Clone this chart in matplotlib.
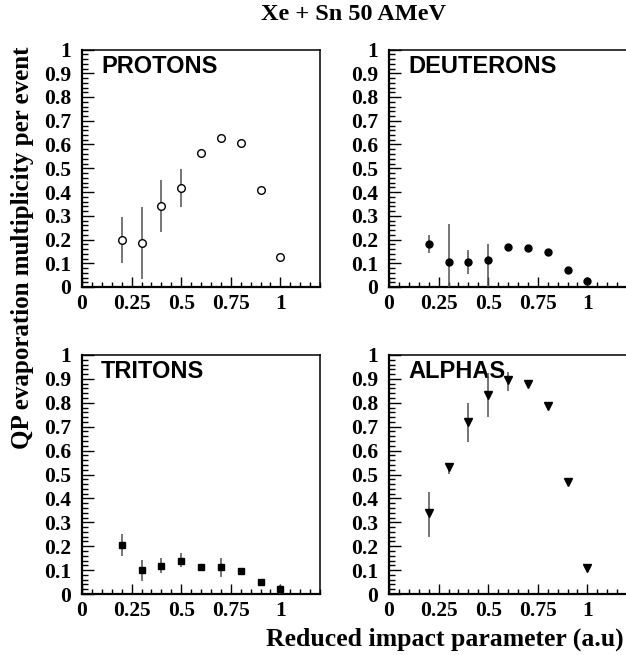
import matplotlib
matplotlib.use("Agg")
import matplotlib.pyplot as plt
import numpy as np
from matplotlib.ticker import MultipleLocator, FormatStrFormatter

plt.rcParams['font.family'] = 'Liberation Serif'
plt.rcParams['font.weight'] = 'bold'

# reduced impact parameter bins
b = [0.2, 0.3, 0.4, 0.5, 0.6, 0.7, 0.8, 0.9, 1.0]

# multiplicities and error bar ends (low, high)
prot = [0.197, 0.186, 0.341, 0.418, 0.565, 0.628, 0.607, 0.410, 0.125]
prot_lo = [0.099, 0.035, 0.232, 0.338, 0.555, 0.615, 0.600, 0.405, 0.120]
prot_hi = [0.296, 0.335, 0.451, 0.496, 0.575, 0.643, 0.615, 0.415, 0.130]

deut = [0.179, 0.106, 0.106, 0.114, 0.168, 0.163, 0.147, 0.070, 0.025]
deut_lo = [0.143, 0.000, 0.053, 0.000, 0.168, 0.163, 0.147, 0.070, 0.015]
deut_hi = [0.217, 0.267, 0.157, 0.183, 0.168, 0.163, 0.147, 0.070, 0.035]

trit = [0.206, 0.101, 0.119, 0.140, 0.115, 0.112, 0.096, 0.052, 0.020]
trit_lo = [0.157, 0.056, 0.087, 0.112, 0.115, 0.073, 0.096, 0.052, 0.000]
trit_hi = [0.253, 0.143, 0.150, 0.171, 0.115, 0.150, 0.096, 0.052, 0.038]

alph = [0.338, 0.530, 0.721, 0.833, 0.895, 0.879, 0.788, 0.470, 0.107]
alph_lo = [0.240, 0.502, 0.637, 0.742, 0.850, 0.879, 0.788, 0.470, 0.107]
alph_hi = [0.428, 0.547, 0.800, 0.925, 0.930, 0.879, 0.788, 0.470, 0.107]

W, H = 626, 655
fig = plt.figure(figsize=(W / 100, H / 100), dpi=100)

def px_axes(x0, y0, x1, y1):
    # pixel box (from top-left) -> figure fraction
    return fig.add_axes([x0 / W, 1 - y1 / H, (x1 - x0) / W, (y1 - y0) / H])

panels = [
    (px_axes(82, 49.5, 320, 287), "PROTONS", prot, prot_lo, prot_hi, 'o', 'white', 5.5),
    (px_axes(389, 49.5, 627, 287), "DEUTERONS", deut, deut_lo, deut_hi, 'o', 'black', 5),
    (px_axes(82, 355, 320, 594), "TRITONS", trit, trit_lo, trit_hi, 's', 'black', 4.6),
    (px_axes(389, 355, 627, 594), "ALPHAS", alph, alph_lo, alph_hi, 'v', 'black', 5.2),
]

for ax, name, y, lo, hi, mk, fc, ms in panels:
    y = np.array(y)
    yerr = [y - np.array(lo), np.array(hi) - y]
    ax.errorbar(b, y, yerr=yerr, fmt=mk, ms=ms, mfc=fc, mec='black', mew=1,
                ecolor='#505050', elinewidth=1.1, capsize=0, zorder=3)
    ax.set_xlim(0, 1.2)
    ax.set_ylim(0, 1)
    ax.xaxis.set_major_locator(MultipleLocator(0.25))
    ax.xaxis.set_minor_locator(MultipleLocator(0.05))
    ax.yaxis.set_major_locator(MultipleLocator(0.1))
    ax.yaxis.set_minor_locator(MultipleLocator(0.02))
    ax.xaxis.set_major_formatter(FormatStrFormatter('%g'))
    ax.yaxis.set_major_formatter(FormatStrFormatter('%g'))
    ax.tick_params(axis='both', which='both', direction='in', width=1,
                   labelsize=15.5, top=False, right=False)
    ax.tick_params(axis='x', which='major', length=7, pad=5)
    ax.tick_params(axis='x', which='minor', length=3.5)
    ax.tick_params(axis='y', which='major', length=8.5, pad=8)
    ax.tick_params(axis='y', which='minor', length=4.5)
    for s in ax.spines.values():
        s.set_linewidth(1.1)
    ax.spines['bottom'].set_linewidth(1.6)
    ax.spines['left'].set_linewidth(1.6)
    ax.text(0.08, 0.93, name, transform=ax.transAxes, family='Liberation Sans',
            weight='bold', fontsize=17, va='center', ha='left', zorder=2)

fig.text(353 / W, 1 - 15 / H, "Xe + Sn 50 AMeV", ha='center', va='center',
         fontsize=17.5, weight='bold')
fig.text(23 / W, 1 - 248 / H, "QP evaporation multiplicity per event",
         rotation=90, ha='center', va='center', fontsize=18, weight='bold')
fig.text(624 / W, 1 - 639 / H, "Reduced impact parameter (a.u)",
         ha='right', va='center', fontsize=18.5, weight='bold')

plt.savefig("out.png", dpi=100)
